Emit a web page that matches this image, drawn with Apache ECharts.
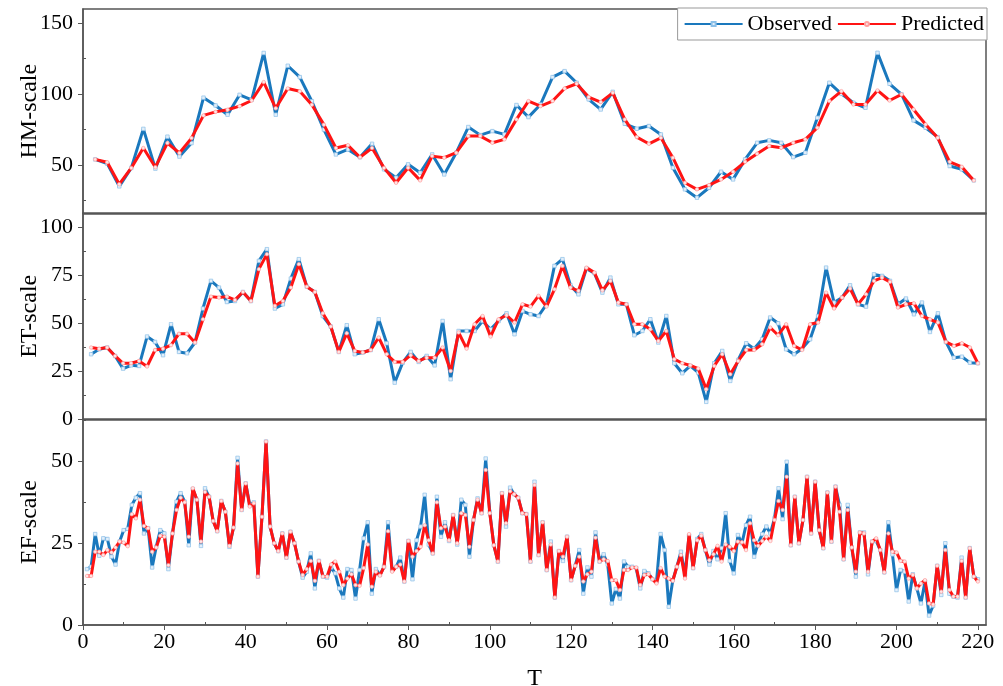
<!DOCTYPE html>
<html><head><meta charset="utf-8">
<script src="https://cdn.jsdelivr.net/npm/echarts@6/dist/echarts.min.js"></script>
<style>html,body{margin:0;padding:0;background:#fff}#c{width:1003px;height:686px}</style>
</head><body><div id="c"></div>
<script>
// ---------- data ----------
const seriesNames = ['Observed', 'Predicted'];
const panelNames = ['HM-scale', 'ET-scale', 'EF-scale'];
const xTickLabels = [0, 20, 40, 60, 80, 100, 120, 140, 160, 180, 200, 220];
const xMinorTicks = [10, 30, 50, 70, 90, 110, 130, 150, 170, 190, 210];
const hmTicks = [50, 100, 150];
const hmMinor = [25, 75, 125];
const etTicks = [0, 25, 50, 75, 100];
const etMinor = [12.5, 37.5, 62.5, 87.5];
const efTicks = [0, 25, 50];
const efMinor = [12.5, 37.5, 62.5];

// T range of each sampled series (first and last time step)
const hmRange = [3, 219];
const etRange = [2, 220];
const efRange = [1, 220];

const hmObserved = [54,51,35,48,75.5,47.5,70,56,65.5,97.5,92,85.5,99.5,96,129,85.5,120,112,95,75,57.5,61,55.5,65,47,
 41.1,50.5,44.6,57.5,43.4,58.7,76.8,71.1,73.9,71.6,92.3,83.8,92.7,112,116.2,108,96.3,89.2,101.6,79.1,75.6,77.5,71.6,48.1,32.9,
 27,34,45.3,39.9,54,65.7,67.4,65.7,55.6,58.7,83.3,108,100.2,93.9,90.4,129.1,107.3,99.8,81.5,76.3,69.7,49.3,47,39.2];
const hmPredicted = [54,52,36.5,48,62,48.5,65.5,58.5,69,85,87.5,89,91.5,95.5,108.5,90,104,102,92.5,78.5,62,64,55.5,62,48,
 37.5,48.1,39.2,56.3,55.2,58.7,70.4,70.4,65.7,68.1,82.2,95.1,91.5,95.1,104,107.3,97.9,94.4,100.9,82.2,69.7,65,69.2,55.2,37.5,
 32.9,35.9,39.9,45.3,52.3,58,63.4,62.2,65.7,68.1,76.3,95.1,102.1,92.7,92.7,102.6,95.5,99.8,89.2,78.6,69.2,52.3,48.8,39.2];

const etObserved = [33.9,36.5,37.4,33,26.4,28.1,27.8,43.1,40.3,33.4,49.5,35.1,34.4,40,57.7,72.1,68.6,61.1,61.6,66.3,61.6,82.5,88.6,57.7,59.9,73.3,83.4,69.1,66.3,53.8,48.3,35.1,49,33.9,34.8,36.1,52.1,39.6,
 19.1,29.5,35.1,29.9,33,28.1,51.2,20.9,46,46,46,51.2,46.9,51.2,55.2,44.3,56.4,54.7,53.8,59.9,79.9,83.4,69.8,65.1,78.5,76.1,66,73.8,59.9,59.9,43.8,46,52.1,40,53.8,29.2,24,27.8,
 24.3,9.1,29.2,35.6,20,30.9,39.6,36.8,41.7,53,50,36.5,33.9,36.8,41.7,53.8,79,60.8,63.4,69.8,59.9,58.7,75.5,74.7,72.1,59.9,62.9,54.7,60.8,45.5,55.2,40.3,32.1,32.6,29.5,29.2];
const etPredicted = [37.4,36.8,37.4,33,29.2,29.2,30.4,27.5,36.1,36.8,38.6,44.6,44.6,40,52.1,63.9,63.4,63.9,62.2,66.3,61.6,78.2,86,59.1,61.6,68.6,80.8,69.1,66.3,55.2,48.3,35.1,44.8,35.6,34.8,36.1,42.6,33.9,
 29.9,29.9,33.4,30.4,32.1,32.1,37.4,25.2,45.2,36.8,49.5,53.8,43.1,52.1,54.2,50.4,59.9,58.7,64.3,58.7,67.7,79.9,68.6,66.9,79,76.4,67.2,72.1,60.8,59.9,49.5,49.5,46.9,40.8,46,31.3,29.2,28.1,
 26.4,15.7,27.8,33.9,23.5,30.4,36.1,36.1,39.1,47.8,43.8,49.5,38.2,36.1,49.5,50.4,66,57.7,63.4,68.1,59.9,65.1,72.1,73.8,71.6,58.2,59.9,60.4,53.8,52.1,50.4,40.3,38.2,39.6,37.4,29.2];

const efObserved = [17.1,17.8,27.8,21.2,26.5,26.3,20.9,18.5,25.5,29.0,29.4,36.7,38.9,40.3,28.0,29.6,17.6,23.9,29.0,28.0,17.1,28.0,37.7,40.3,37.7,24.4,41.6,38.3,24.2,41.8,39.2,31.8,28.7,37.9,34.6,23.9,29.8,51.1,35.2,43.3,36.7,37.5,14.8,33.1,56.1,30.1,25.0,22.6,28.0,20.6,28.5,25.0,19.4,14.5,16.3,21.9,11.2,19.6,14.8,14.5,17.6,15.8,11.2,8.4,17.1,16.8,8.1,16.8,26.5,31.4,9.6,17.1,15.3,17.8,31.4,
 16.8,17.8,20.6,13.3,25.7,14.0,25.9,30.1,39.8,24.6,21.9,39.2,27.0,31.4,25.7,33.6,24.6,38.3,36.7,20.9,32.1,38.7,34.2,50.9,34.6,24.4,19.4,40.3,30.1,42.0,40.0,38.9,34.2,33.9,19.4,43.8,21.4,31.4,16.8,25.5,8.4,22.6,19.6,27.0,13.7,18.1,22.9,9.6,17.6,14.8,28.3,19.4,21.6,18.5,6.6,11.0,8.1,19.4,17.8,17.8,17.4,11.2,16.5,15.8,14.0,13.3,27.8,22.9,5.6,13.7,17.8,22.4,15.5,27.3,
 17.4,26.3,27.8,22.9,18.5,22.6,20.1,23.5,34.2,19.6,15.8,27.5,25.0,30.5,33.1,20.9,25.0,27.8,30.1,28.0,32.6,41.8,32.4,49.9,24.4,39.2,25.0,32.1,45.3,28.0,43.8,29.0,23.5,40.5,25.5,42.3,36.7,20.1,36.7,23.7,14.8,28.3,28.3,15.5,25.5,25.7,22.9,16.1,31.4,21.6,10.7,16.8,16.3,7.2,15.5,11.2,6.6,13.3,2.9,5.9,18.1,9.2,25.0,9.6,8.7,8.4,20.6,8.4,23.5,14.8,14.0];
const efPredicted = [15.0,15.0,22.4,22.4,21.4,22.9,22.2,23.7,25.5,25.2,24.1,33.9,32.6,38.3,30.3,29.6,22.4,23.7,27.3,27.0,18.3,28.0,35.2,38.9,37.5,27.0,41.8,38.3,25.5,40.7,39.2,31.8,28.7,37.9,34.6,24.2,29.8,49.4,35.2,43.3,36.2,37.2,14.8,33.1,56.1,30.1,25.0,22.6,28.0,20.6,28.5,25.0,19.4,15.3,17.1,19.6,13.5,19.6,14.8,14.8,18.5,19.4,16.3,12.2,14.2,15.5,12.2,12.0,17.4,24.6,11.7,16.3,15.1,17.8,28.7,
 16.3,17.8,18.5,13.3,25.7,20.9,22.6,23.9,30.5,25.9,21.9,37.5,29.6,30.1,25.9,33.6,25.0,34.2,33.6,23.9,32.1,38.3,34.2,47.4,34.2,24.4,19.4,40.3,31.1,40.9,40.0,38.9,34.2,33.9,19.4,42.8,21.4,31.4,16.8,24.6,8.4,22.6,20.9,27.0,13.7,18.1,20.9,13.3,15.5,16.3,26.7,19.4,20.1,19.6,13.7,13.7,10.7,16.8,16.8,17.6,17.6,12.2,15.3,15.5,14.0,12.7,17.4,14.8,14.2,13.5,17.8,21.4,14.2,27.8,
 17.4,25.9,27.3,22.9,19.8,21.6,24.2,19.4,24.6,23.9,22.6,25.5,25.3,22.9,31.1,25.9,24.2,25.7,27.0,25.7,32.1,37.9,35.2,45.3,24.4,39.2,25.0,32.1,45.3,28.0,43.8,29.0,23.5,40.5,25.5,42.3,34.6,20.1,35.2,23.7,16.3,28.3,28.0,16.3,25.5,26.5,22.9,16.1,28.0,22.4,22.2,19.6,19.4,14.2,15.3,11.2,12.7,13.7,6.6,6.3,18.1,10.2,22.9,10.7,8.7,8.7,19.6,8.4,23.5,14.8,13.3];

// ---------- chart ----------
const FONT = 'Liberation Serif, Times New Roman, serif';
function pairs(vals, range) {
  const n = vals.length, step = (range[1] - range[0]) / (n - 1);
  return vals.map((v, i) => [range[0] + i * step, v]);
}
const grids = [
  {left: 83, width: 903, top: 9, height: 204.3},
  {left: 83, width: 903, top: 213.3, height: 206},
  {left: 83, width: 903, top: 419.3, height: 205.7}
];
const yRanges = [[16, 160], [0, 107.3], [0, 62.9]];
const yTicks = [hmTicks, etTicks, efTicks];
const yMinor = [hmMinor, etMinor, efMinor];
const lineCol = '#555';

const xAxes = [], yAxes = [], series = [];
for (let p = 0; p < 3; p++) {
  const last = p === 2;
  xAxes.push({
    type: 'value', gridIndex: p, min: 0, max: 222,
    name: last ? 'T' : '', nameLocation: 'middle', nameGap: 42, nameMoveOverlap: false,
    nameTextStyle: {fontFamily: FONT, fontSize: 24, color: '#000'},
    axisLine: {show: true, onZero: false, lineStyle: {color: lineCol, width: 1.5}},
    axisTick: {show: last, customValues: xTickLabels, length: 5, inside: false, lineStyle: {color: lineCol}},
    axisLabel: {show: last, customValues: xTickLabels, fontFamily: FONT, fontSize: 22, color: '#000', margin: 6},
    splitLine: {show: false}
  });
  xAxes.push({
    type: 'value', gridIndex: p, min: 0, max: 222,
    axisLine: {show: false},
    axisTick: {show: last, customValues: xMinorTicks, length: 3, lineStyle: {color: lineCol}},
    axisLabel: {show: false}, splitLine: {show: false}
  });
  yAxes.push({
    type: 'value', gridIndex: p, min: yRanges[p][0], max: yRanges[p][1],
    name: panelNames[p], nameLocation: 'middle', nameGap: 41, nameRotate: 90, nameMoveOverlap: false,
    nameTextStyle: {fontFamily: FONT, fontSize: 24, color: '#000'},
    axisLine: {show: true, onZero: false, lineStyle: {color: lineCol, width: 1.5}},
    axisTick: {show: true, customValues: yTicks[p], length: 5, lineStyle: {color: lineCol}},
    axisLabel: {show: true, customValues: yTicks[p], fontFamily: FONT, fontSize: 22, color: '#000', margin: 10},
    splitLine: {show: false}
  });
  yAxes.push({
    type: 'value', gridIndex: p, min: yRanges[p][0], max: yRanges[p][1],
    axisLine: {show: false},
    axisTick: {show: true, customValues: yMinor[p].filter(v => v < yRanges[p][1]), length: 3, lineStyle: {color: lineCol}},
    axisLabel: {show: false}, splitLine: {show: false}
  });
}
const obsData = [pairs(hmObserved, hmRange), pairs(etObserved, etRange), pairs(efObserved, efRange)];
const preData = [pairs(hmPredicted, hmRange), pairs(etPredicted, etRange), pairs(efPredicted, efRange)];
for (let p = 0; p < 3; p++) {
  series.push({
    name: seriesNames[0], type: 'line', xAxisIndex: 2 * p, yAxisIndex: 2 * p,
    data: obsData[p], symbol: 'rect', symbolSize: 3.5, showAllSymbol: true,
    lineStyle: {color: '#1a78bd', width: 3},
    itemStyle: {color: '#e3effa', borderColor: '#8cc0e8', borderWidth: 0.7},
    emphasis: {disabled: true}, animation: false, z: 2
  });
  series.push({
    name: seriesNames[1], type: 'line', xAxisIndex: 2 * p, yAxisIndex: 2 * p,
    data: preData[p], symbol: 'circle', symbolSize: 3.5, showAllSymbol: true,
    lineStyle: {color: '#ff1414', width: 3},
    itemStyle: {color: '#ffe6e6', borderColor: '#ffa0a0', borderWidth: 0.7},
    emphasis: {disabled: true}, animation: false, z: 3
  });
}
const chart = echarts.init(document.getElementById('c'), null, {renderer: 'canvas'});
chart.setOption({
  animation: false,
  backgroundColor: '#fff',
  grid: grids.map(g => Object.assign({show: true, borderColor: lineCol, borderWidth: 1.5, backgroundColor: 'transparent', containLabel: false, outerBoundsMode: 'none'}, g)),
  xAxis: xAxes, yAxis: yAxes, series: series,
  legend: {
    data: seriesNames, right: 16, top: 8, orient: 'horizontal',
    borderColor: '#999', borderWidth: 1, borderRadius: 0,
    padding: [5, 3, 5, 6], itemGap: 5, itemWidth: 58, itemHeight: 5,
    textStyle: {fontFamily: FONT, fontSize: 22, color: '#000'},
    backgroundColor: '#fff'
  }
});
</script></body></html>
